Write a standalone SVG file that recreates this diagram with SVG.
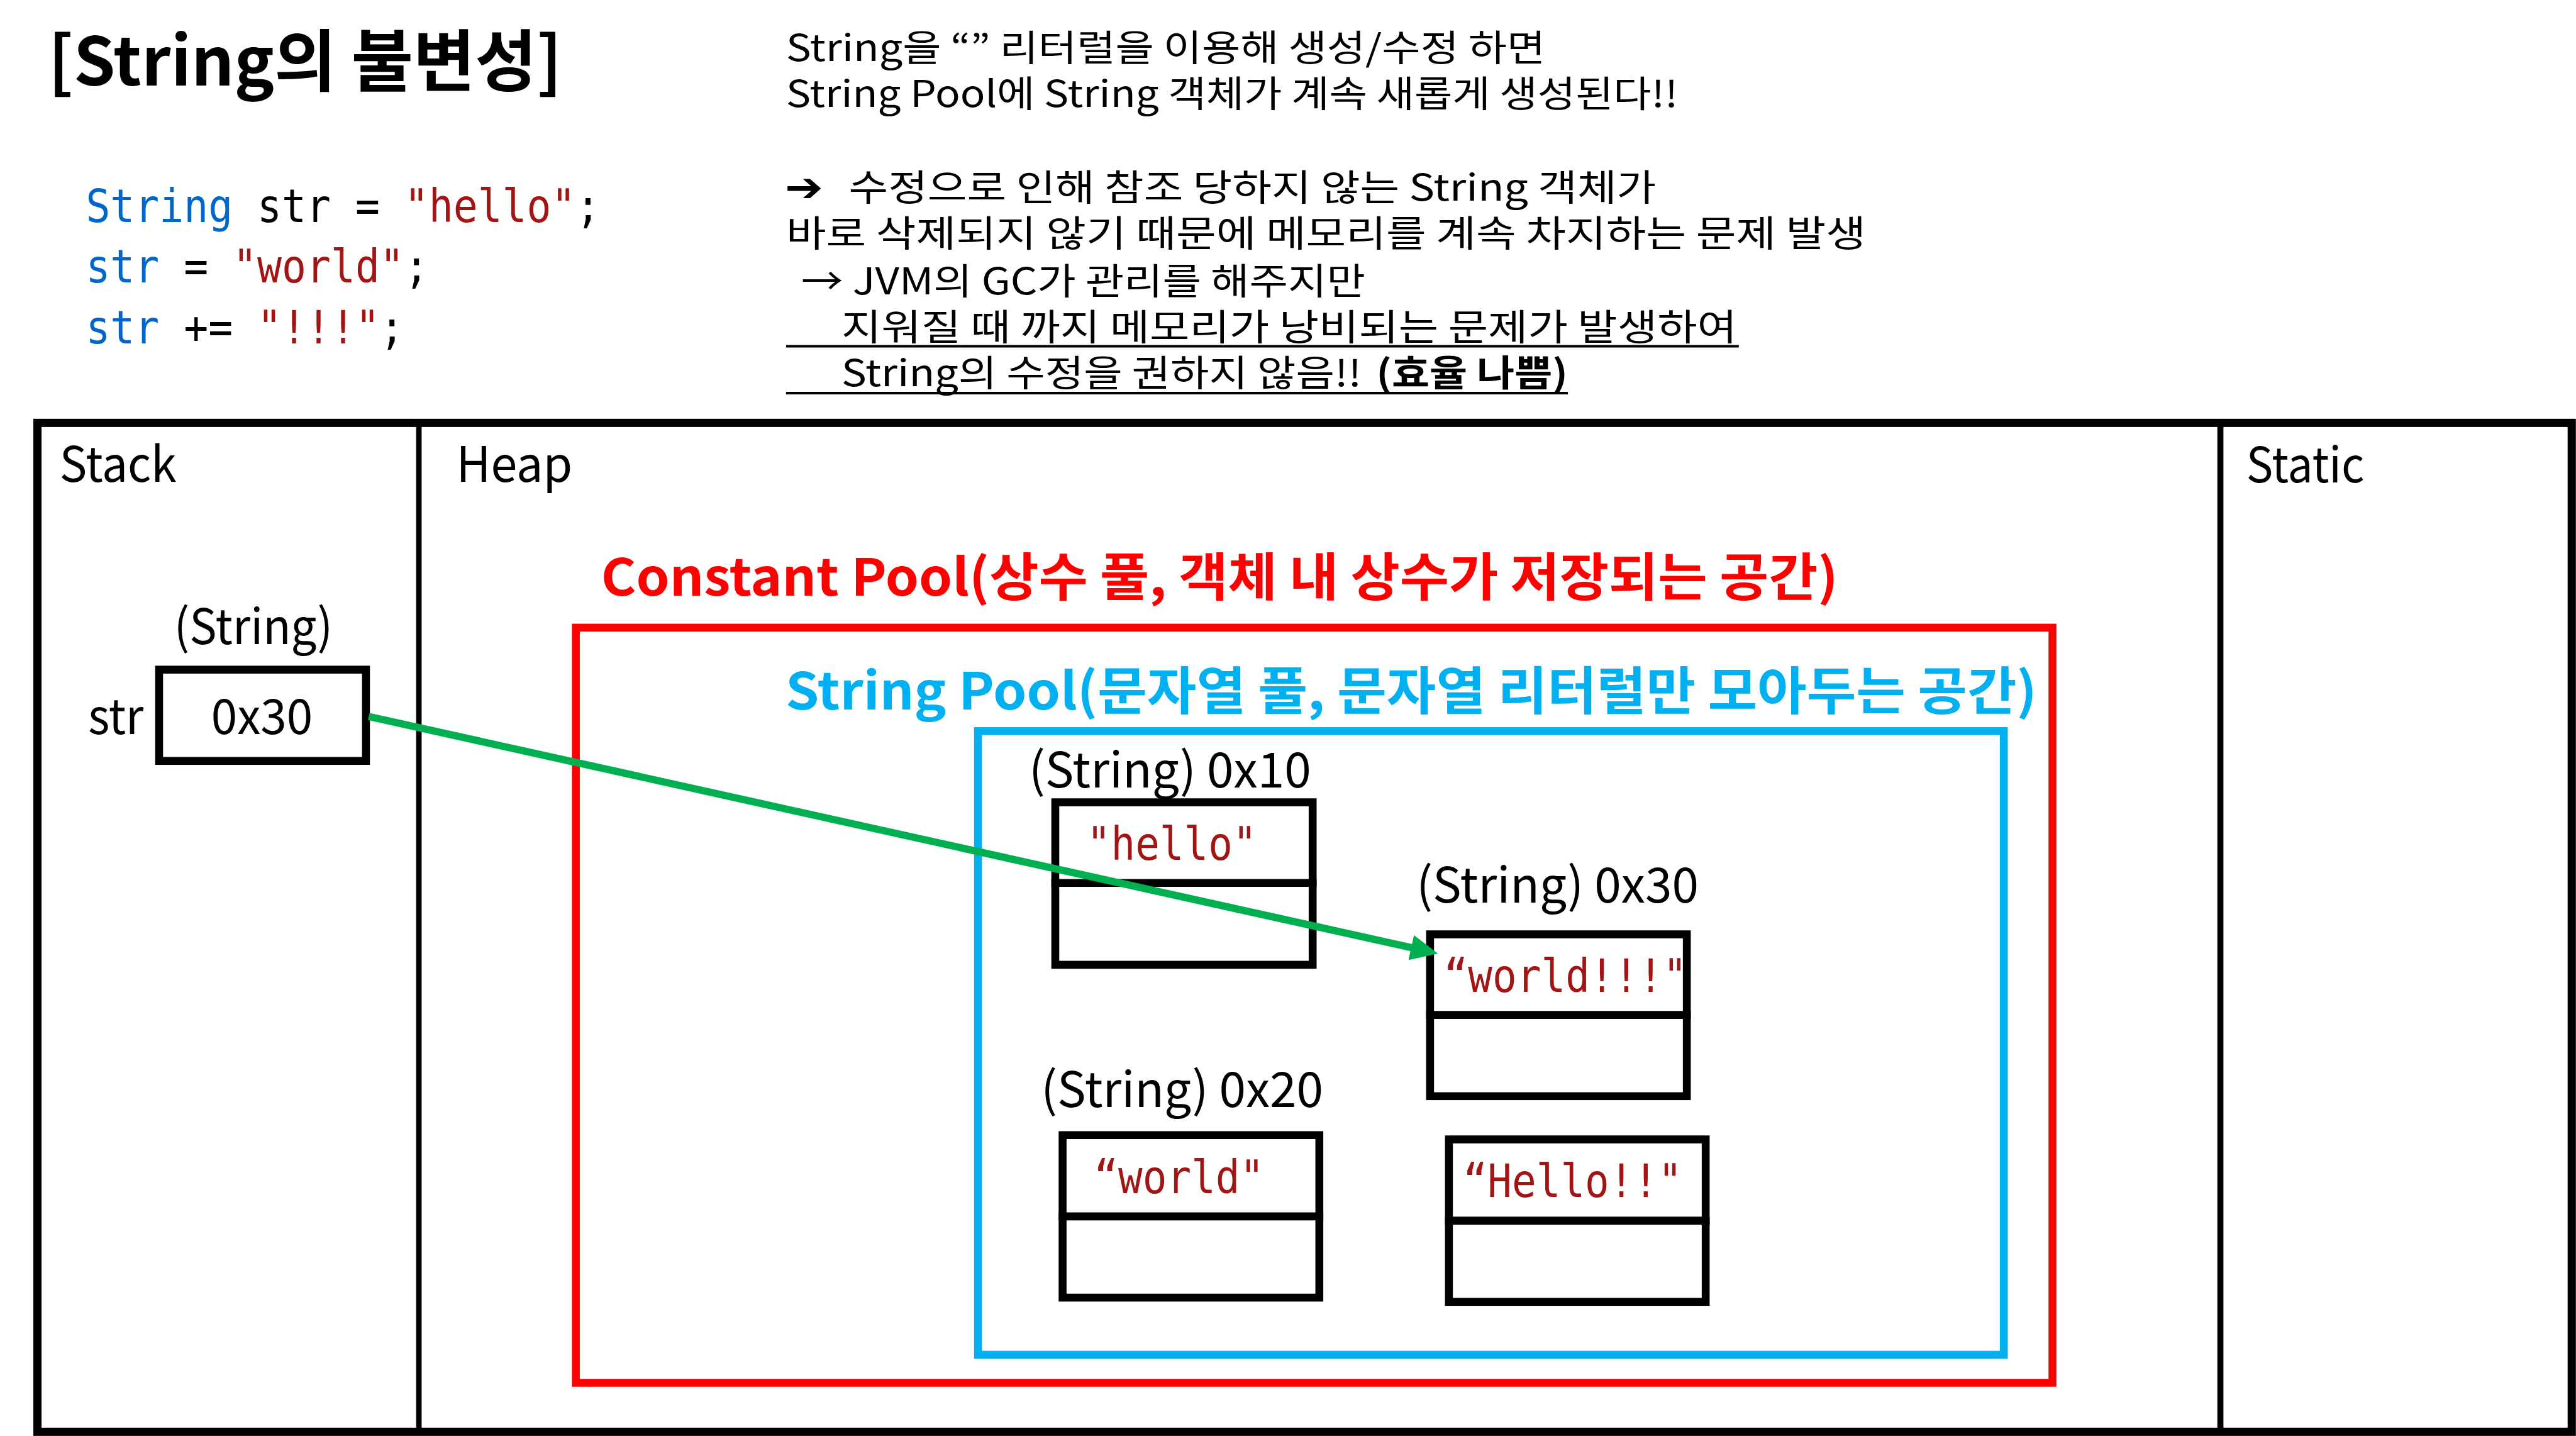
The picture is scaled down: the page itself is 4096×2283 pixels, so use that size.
<svg xmlns="http://www.w3.org/2000/svg" width="4096" height="2283" viewBox="0 0 4096 2283">
<style>
.k{font-family:"Noto Sans CJK KR","Noto Sans","DejaVu Sans",sans-serif;fill:#000}
.m{font-family:"DejaVu Sans Mono","Liberation Mono",monospace;font-size:76px}
.b{font-weight:bold}
.kw{fill:#0066CC}
.st{fill:#A31515}
.lbl{font-size:80px}
.note{font-size:60px}
.box{fill:#fff;stroke:#000;stroke-width:13}
.div{stroke:#000;stroke-width:13}
</style>
<defs>
<marker id="arrow" markerUnits="userSpaceOnUse" viewBox="0 0 45 42" refX="15" refY="21" markerWidth="45" markerHeight="42" orient="auto">
<path d="M0,0 L45,21 L0,42 Z" fill="#00B050"/>
</marker>
</defs>
<rect width="4096" height="2283" fill="#fff"/>
<g transform="scale(0.96741)">
<g id="title">
<text class="k b" x="79" y="141" font-size="110" textLength="845" lengthAdjust="spacingAndGlyphs">[String의 불변성]</text>
</g>
<g id="code" transform="translate(141,0) scale(0.88,1)">
<text class="m" x="0" y="365"><tspan class="kw">String</tspan> str = <tspan class="st">"hello"</tspan>;</text>
<text class="m" x="0" y="464"><tspan class="kw">str</tspan> = <tspan class="st">"world"</tspan>;</text>
<text class="m" x="0" y="564"><tspan class="kw">str</tspan> += <tspan class="st">"!!!"</tspan>;</text>
</g>
<g id="notes">
<text class="k note" x="1292" y="100" textLength="1248" lengthAdjust="spacingAndGlyphs">String을 “” 리터럴을 이용해 생성/수정 하면</text>
<text class="k note" x="1292" y="176" textLength="1466" lengthAdjust="spacingAndGlyphs">String Pool에 String 객체가 계속 새롭게 생성된다!!</text>
<text x="1290" y="331" font-family="DejaVu Sans, sans-serif" font-weight="bold" font-size="66" textLength="63" lengthAdjust="spacingAndGlyphs">➔</text>
<text class="k note" x="1395" y="330" textLength="1327" lengthAdjust="spacingAndGlyphs">수정으로 인해 참조 당하지 않는 String 객체가</text>
<text class="k note" x="1292" y="405" textLength="1775" lengthAdjust="spacingAndGlyphs">바로 삭제되지 않기 때문에 메모리를 계속 차지하는 문제 발생</text>
<text class="k note" x="1317" y="484" textLength="927" lengthAdjust="spacingAndGlyphs">→ JVM의 GC가 관리를 해주지만</text>
<text class="k note" x="1383" y="559" textLength="1472" lengthAdjust="spacingAndGlyphs">지워질 때 까지 메모리가 낭비되는 문제가 발생하여</text>
<line x1="1292" y1="569" x2="2858" y2="569" stroke="#000" stroke-width="4"/>
<text class="k note" x="1383" y="635" textLength="855" lengthAdjust="spacingAndGlyphs">String의 수정을 권하지 않음!!</text>
<text class="k note b" x="2262" y="635" textLength="315" lengthAdjust="spacingAndGlyphs">(효율 나쁨)</text>
<line x1="1292" y1="646" x2="2577" y2="646" stroke="#000" stroke-width="4"/>
</g>
<g id="memory-frame">
<rect x="61.5" y="695" width="4165.5" height="1658" fill="none" stroke="#000" stroke-width="13.5"/>
<line x1="688.5" y1="695" x2="688.5" y2="2353" stroke="#000" stroke-width="9"/>
<line x1="3649.5" y1="695" x2="3649.5" y2="2353" stroke="#000" stroke-width="10"/>
</g>
<g id="stack">
<text class="k lbl" x="98" y="792" textLength="192" lengthAdjust="spacingAndGlyphs">Stack</text>
</g>
<g id="heap">
<text class="k lbl" x="750" y="792" textLength="191" lengthAdjust="spacingAndGlyphs">Heap</text>
</g>
<g id="static">
<text class="k lbl" x="3692" y="793" textLength="194" lengthAdjust="spacingAndGlyphs">Static</text>
</g>
<g id="stack-str">
<text class="k lbl" x="286" y="1058" textLength="261" lengthAdjust="spacingAndGlyphs">(String)</text>
<text class="k lbl" x="145" y="1206" textLength="91" lengthAdjust="spacingAndGlyphs">str</text>
<rect class="box" x="261.5" y="1100.5" width="340" height="150"/>
<text class="k lbl" x="347" y="1206" textLength="167" lengthAdjust="spacingAndGlyphs">0x30</text>
</g>
<g id="constant-pool">
<text class="k b" x="988" y="979" font-size="84" style="fill:#FF0000" textLength="2033" lengthAdjust="spacingAndGlyphs">Constant Pool(상수 풀, 객체 내 상수가 저장되는 공간)</text>
<rect x="946.5" y="1031.5" width="2427" height="1241" fill="none" stroke="#FF0000" stroke-width="13"/>
</g>
<g id="string-pool">
<text class="k b" x="1291" y="1166" font-size="84" style="fill:#00B0F0" textLength="2057" lengthAdjust="spacingAndGlyphs">String Pool(문자열 풀, 문자열 리터럴만 모아두는 공간)</text>
<rect x="1607.5" y="1201.5" width="1686" height="1025" fill="none" stroke="#00B0F0" stroke-width="13"/>
</g>
<g id="obj-0x10">
<text class="k lbl" x="1691" y="1294" textLength="464" lengthAdjust="spacingAndGlyphs">(String) 0x10</text>
<rect class="box" x="1734.5" y="1318.5" width="423" height="267"/>
<line class="div" x1="1728" y1="1451" x2="2164" y2="1451"/>
<text class="m st" x="1786" y="1413" textLength="280" lengthAdjust="spacingAndGlyphs">"hello"</text>
</g>
<g id="obj-0x30">
<text class="k lbl" x="2328" y="1483" textLength="464" lengthAdjust="spacingAndGlyphs">(String) 0x30</text>
<rect class="box" x="2350.5" y="1535.5" width="422" height="266"/>
<line class="div" x1="2344" y1="1668" x2="2779" y2="1668"/>
<text class="m st" x="2373" y="1630" textLength="400" lengthAdjust="spacingAndGlyphs">“world!!!"</text>
</g>
<g id="obj-0x20">
<text class="k lbl" x="1711" y="1819" textLength="464" lengthAdjust="spacingAndGlyphs">(String) 0x20</text>
<rect class="box" x="1746.5" y="1865.5" width="422" height="267"/>
<line class="div" x1="1740" y1="1999" x2="2175" y2="1999"/>
<text class="m st" x="1798" y="1961" textLength="280" lengthAdjust="spacingAndGlyphs">“world"</text>
</g>
<g id="obj-hello">
<rect class="box" x="2381.5" y="1872.5" width="422" height="267"/>
<line class="div" x1="2375" y1="2006" x2="2810" y2="2006"/>
<text class="m st" x="2405" y="1967" textLength="360" lengthAdjust="spacingAndGlyphs">“Hello!!"</text>
</g>
<g id="connectors">
<line x1="606" y1="1177.5" x2="2334" y2="1560.5" stroke="#00B050" stroke-width="12" marker-end="url(#arrow)"/>
</g>
</g>
</svg>
